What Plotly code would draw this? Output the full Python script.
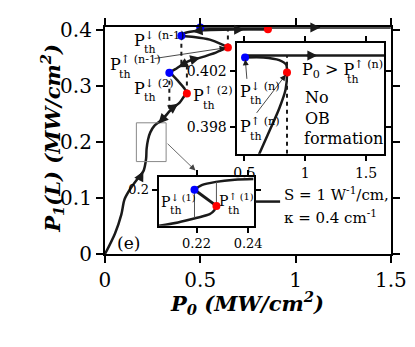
import plotly.graph_objects as go

W, H = 415, 347
FONT = "DejaVu Serif"
INK = "#1a1a1a"

# main curve, P1(L) against P0 (MW/cm^2)
main_p0 = [0, 0.053, 0.086, 0.103, 0.136, 0.177, 0.202, 0.216, 0.2185, 0.226, 0.238,
           0.26, 0.301, 0.351, 0.392, 0.417, 0.43, 0.417, 0.382, 0.351, 0.338, 0.367,
           0.433, 0.492, 0.582, 0.624, 0.645, 0.616, 0.55, 0.467, 0.42, 0.401, 0.41,
           0.433, 0.517, 0.715, 0.855]
main_p1 = [0, 0.037, 0.0705, 0.098, 0.118, 0.137, 0.148, 0.17, 0.187, 0.204, 0.217,
           0.229, 0.24, 0.259, 0.27, 0.282, 0.286, 0.295, 0.309, 0.32, 0.323, 0.329,
           0.343, 0.349, 0.359, 0.365, 0.368, 0.373, 0.382, 0.3868, 0.388, 0.389, 0.392,
           0.395, 0.3985, 0.4, 0.4005]
top_p0 = [0.855, 0.665, 0.5, 1.5]
top_p1 = [0.4005, 0.4025, 0.4035, 0.4035]

# thresholds
blue_p0 = [0.338, 0.401, 0.5]
blue_p1 = [0.323, 0.389, 0.4035]
red_p0 = [0.43, 0.645, 0.855]
red_p1 = [0.286, 0.368, 0.4005]

# jumps (dashed)
jump_p0 = [0.401, 0.645, 0.338, 0.43]
jump_from = [0.389, 0.368, 0.323, 0.286]
jump_to = [0.336, 0.3995, 0.255, 0.342]

# inset 1 (n-th loop)
in1_p0 = [0.617, 0.708, 0.786, 0.838, 0.85, 0.843, 0.786, 0.656, 0.505]
in1_p1 = [0.396, 0.39778, 0.39934, 0.40068, 0.40191, 0.40247, 0.4028, 0.40299, 0.40299]
in1_top_p0 = [0.505, 1.65]
in1_top_p1 = [0.40312, 0.40312]
in1_blue = (0.505, 0.40299)
in1_red = (0.85, 0.40191)

# inset 2 (first loop)
in2_low_p0 = [0.2055, 0.2128, 0.2202, 0.2251, 0.2269, 0.2277]
in2_low_p1 = [0.19, 0.1909, 0.1922, 0.1932, 0.1943, 0.1955]
in2_up_p0 = [0.2192, 0.2220, 0.2275, 0.2348, 0.2421]
in2_up_p1 = [0.2, 0.2013, 0.2022, 0.2028, 0.2030]
in2_blue = (0.2192, 0.2)
in2_red = (0.2277, 0.1955)


def dom_x(a, b):
    return [a / W, b / W]


def dom_y(top, bottom):
    return [1 - bottom / H, 1 - top / H]


def pp(x, y):
    return x / W, 1 - y / H


fig = go.Figure()

line = dict(color=INK, width=2.5, shape="spline", smoothing=0.8)
fig.add_trace(go.Scatter(x=main_p0, y=main_p1, mode="lines", line=line))
fig.add_trace(go.Scatter(x=top_p0, y=top_p1, mode="lines",
                         line=dict(color=INK, width=2.5), cliponaxis=False))
for x0, ya, yb in zip(jump_p0, jump_from, jump_to):
    fig.add_trace(go.Scatter(x=[x0, x0], y=[ya, yb], mode="lines",
                             line=dict(color=INK, width=2, dash="4px,4px")))
fig.add_trace(go.Scatter(x=blue_p0, y=blue_p1, mode="markers", cliponaxis=False,
                         marker=dict(color="#0000ff", size=8)))
fig.add_trace(go.Scatter(x=red_p0, y=red_p1, mode="markers", cliponaxis=False,
                         marker=dict(color="#ff0000", size=8)))

# inset 1
fig.add_trace(go.Scatter(x=in1_p0, y=in1_p1, mode="lines", line=line, xaxis="x2", yaxis="y2"))
fig.add_trace(go.Scatter(x=in1_top_p0, y=in1_top_p1, mode="lines",
                         line=dict(color=INK, width=2.5), xaxis="x2", yaxis="y2"))
fig.add_trace(go.Scatter(x=[in1_red[0], in1_red[0]], y=[0.3961, in1_top_p1[0]], mode="lines",
                         line=dict(color=INK, width=2, dash="4px,4px"), xaxis="x2", yaxis="y2"))
fig.add_trace(go.Scatter(x=[in1_blue[0]], y=[in1_blue[1]], mode="markers", cliponaxis=False,
                         marker=dict(color="#0000ff", size=8), xaxis="x2", yaxis="y2"))
fig.add_trace(go.Scatter(x=[in1_red[0]], y=[in1_red[1]], mode="markers", cliponaxis=False,
                         marker=dict(color="#ff0000", size=8), xaxis="x2", yaxis="y2"))

# inset 2
fig.add_trace(go.Scatter(x=in2_low_p0, y=in2_low_p1, mode="lines", line=line, xaxis="x3", yaxis="y3"))
fig.add_trace(go.Scatter(x=in2_up_p0, y=in2_up_p1, mode="lines", line=line, xaxis="x3", yaxis="y3"))
fig.add_trace(go.Scatter(x=[in2_red[0], in2_blue[0]], y=[in2_red[1], in2_blue[1]], mode="lines",
                         line=dict(color=INK, width=3), xaxis="x3", yaxis="y3"))
fig.add_trace(go.Scatter(x=[in2_blue[0], in2_blue[0]], y=[0.1991, 0.1922], mode="lines",
                         line=dict(color="#555", width=1), xaxis="x3", yaxis="y3"))
fig.add_trace(go.Scatter(x=[in2_red[0], in2_red[0]], y=[0.1957, 0.2022], mode="lines",
                         line=dict(color="#555", width=1), xaxis="x3", yaxis="y3"))
fig.add_trace(go.Scatter(x=[in2_blue[0]], y=[in2_blue[1]], mode="markers", cliponaxis=False,
                         marker=dict(color="#0000ff", size=8), xaxis="x3", yaxis="y3"))
fig.add_trace(go.Scatter(x=[in2_red[0]], y=[in2_red[1]], mode="markers", cliponaxis=False,
                         marker=dict(color="#ff0000", size=8), xaxis="x3", yaxis="y3"))


def axis(domain, rng, tickvals, anchor, size, ticklen, ticktext=None):
    a = dict(domain=domain, range=rng, tickvals=tickvals, anchor=anchor,
             showline=True, linewidth=2, linecolor="black", mirror="ticks",
             ticks="outside", ticklen=ticklen, tickwidth=1.5, tickcolor="black",
             showgrid=False, zeroline=False,
             tickfont=dict(family=FONT, size=size, color="black"))
    if ticktext:
        a["ticktext"] = ticktext
    return a


annotations = []


def arrow(xref, yref, head, tail, width=2, size=1.0, color=INK, head_style=2):
    annotations.append(dict(x=head[0], y=head[1], ax=tail[0], ay=tail[1], xref=xref, yref=yref,
                            axref=xref, ayref=yref, text="", showarrow=True,
                            arrowhead=head_style, arrowsize=size, arrowwidth=width,
                            arrowcolor=color))


# arrows along the branches
arrow("x", "y", (0.202, 0.148), (0.185, 0.137))
arrow("x", "y", (0.384, 0.2677), (0.36, 0.262))
arrow("x", "y", (0.28, 0.2325), (0.301, 0.24))
arrow("x", "y", (0.384, 0.333), (0.41, 0.3375))
arrow("x", "y", (0.5, 0.3498), (0.46, 0.3465))
arrow("x", "y", (0.46, 0.3965), (0.5, 0.398))
arrow("x", "y", (0.73, 0.4001), (0.68, 0.3998))
arrow("x", "y", (1.13, 0.4035), (1.08, 0.4035))
arrow("x2", "y2", (1.1, in1_top_p1[0]), (1.0, in1_top_p1[0]))

# thin pointers from labels to thresholds
arrow("x", "y", (0.633, 0.3675), (0.252, 0.348), width=0.8, size=1.5)
arrow("x2", "y2", (0.507, 0.40285), (0.521, 0.40135), width=0.8, size=1.5)
arrow("x2", "y2", (0.84, 0.40175), (0.591, 0.39892), width=0.8, size=1.5)
arrow("x", "y", (0.475, 0.149), (0.321, 0.1993), width=0.8, size=1.5, color="#444")


def text(xp, yp, s, size=16, anchor="left"):
    x, y = pp(xp, yp)
    annotations.append(dict(x=x, y=y, xref="paper", yref="paper", text=s, showarrow=False,
                            xanchor=anchor, yanchor="middle",
                            font=dict(family=FONT, size=size, color="black")))


def pth(xp, yp, sup, size=16):
    text(xp, yp, "P<sup>" + sup + "</sup>", size=size)
    text(xp + 10, yp + 11, "th", size=11)


pth(125, 23, "↓ (n-1)")
pth(99, 49, "↑ (n-1)")
pth(125, 74, "↓ (2)")
pth(187, 82, "↑ (2)")
pth(237, 77, "↓ (n)")
pth(237, 115, "↑ (n)")
pth(153, 195, "↓ (1)", size=14)
pth(214, 194, "↑ (1)", size=14)
text(302, 55, "P<sub>0</sub> &gt; P<sup>↑ (n)</sup>")
text(350, 66, "th", size=11)
text(305, 85, "No")
text(305, 107, "OB")
text(304, 129, "formation")
text(283, 188, "S = 1 W<sup>-1</sup>/cm,", size=15)
text(283, 212, "κ = 0.4 cm<sup>-1</sup>", size=15)
text(107, 240, "(e)", size=17)

x, y = pp(246, 322)
annotations.append(dict(x=x, y=y, xref="paper", yref="paper", showarrow=False,
                        text="<b><i>P<sub>0</sub> (MW/cm<sup>2</sup>)</i></b>",
                        font=dict(family=FONT, size=21, color="black")))
x, y = pp(22, 128)
annotations.append(dict(x=x, y=y, xref="paper", yref="paper", showarrow=False, textangle=-90,
                        text="<b><i>P<sub>1</sub>(L) (MW/cm<sup>2</sup>)</i></b>",
                        font=dict(family=FONT, size=21, color="black")))

x0, y0 = pp(255, 196)
x1, y1 = pp(281, 196)
shapes = [
    dict(type="rect", xref="x", yref="y", x0=0.165, x1=0.321, y0=0.165, y1=0.234,
         line=dict(color="#888", width=1)),
    dict(type="line", xref="paper", yref="paper", x0=x0, y0=y0, x1=x1, y1=y1,
         line=dict(color=INK, width=2.5)),
]

fig.update_layout(
    width=W, height=H, autosize=False, showlegend=False,
    margin=dict(l=0, r=0, t=0, b=0),
    paper_bgcolor="white", plot_bgcolor="white",
    font=dict(family=FONT),
    xaxis=axis(dom_x(96, 398), [0, 1.5], [0, 0.5, 1, 1.5], "y", 20, 7, ["0", "0.5", "1", "1.5"]),
    yaxis=axis(dom_y(9.9, 252.3), [0, 0.404], [0, 0.1, 0.2, 0.3, 0.4], "x", 20, 7),
    xaxis2=axis(dom_x(235, 391), [0.435, 1.65], [0.5, 1, 1.5], "y2", 14, 5, ["0.5", "1", "1.5"]),
    yaxis2=axis(dom_y(27, 145), [0.3961, 0.4040], [0.398, 0.402], "x2", 14, 5, ["0.398", "0.402"]),
    xaxis3=axis(dom_x(152.7, 253), [0.2053, 0.2421], [0.22, 0.24], "y3", 13, 5, ["0.22", "0.24"]),
    yaxis3=axis(dom_y(170, 221.7), [0.19, 0.2035], [0.2], "x3", 13, 5, ["0.2"]),
    annotations=annotations,
    shapes=shapes,
)

fig.write_html("out.html")
